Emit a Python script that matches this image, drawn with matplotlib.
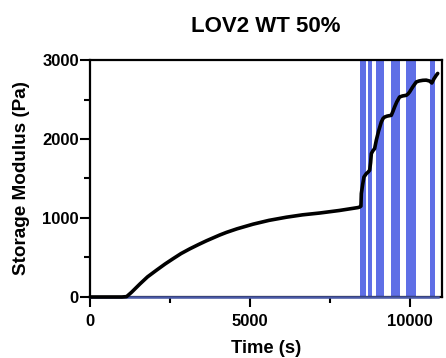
import matplotlib
matplotlib.use("Agg")
import matplotlib.pyplot as plt
from matplotlib.ticker import MultipleLocator

plt.rcParams['font.family'] = ['Liberation Sans', 'DejaVu Sans']

# Storage modulus over time
time_s = [0, 200, 400, 600, 800, 1000, 1146, 1300, 1562, 1800, 2083, 2350, 2604, 2850,
          3125, 3400, 3646, 4062, 4271, 4600, 5103, 5600, 6146, 6650, 7187, 7800,
          8384, 8437, 8478, 8490, 8530, 8572, 8646, 8700, 8750, 8780, 8803, 8850,
          8906, 8959, 9030, 9115, 9170, 9219, 9300, 9428, 9480, 9531, 9600, 9687,
          9780, 9896, 9950, 10000, 10100, 10209, 10300, 10416, 10520, 10625, 10697,
          10760, 10834, 10880]
storage_pa = [0, 0, 0, 0, 0, 0, 5, 60, 165, 255, 340, 418, 486, 550,
              610, 665, 712, 785, 818, 863, 922, 970, 1010, 1040, 1063, 1095,
              1132, 1139, 1150, 1309, 1420, 1519, 1562, 1580, 1604, 1700, 1815, 1850,
              1878, 1984, 2100, 2215, 2260, 2278, 2290, 2300, 2350, 2405, 2470, 2532,
              2545, 2553, 2570, 2595, 2660, 2722, 2735, 2743, 2745, 2734, 2709,
              2760, 2806, 2830]

# Second series near zero (blue line)
loss_time = [0, 10900]
loss_pa = [0, 0]

# Light-exposure bands (start, end) in seconds
band_starts = [8459, 8697, 8937, 9428, 9875, 10625]
band_ends = [8625, 8822, 9187, 9688, 10209, 10781]

x_ticks = [0, 5000, 10000]
y_ticks = [0, 1000, 2000, 3000]

fig = plt.figure(figsize=(4.46, 3.58), dpi=100)
ax = fig.add_axes([0.2018, 0.1704, 0.7882, 0.662])

for s, e in zip(band_starts, band_ends):
    ax.axvspan(s, e, color='#5F6FE6', lw=0, zorder=1)

ax.plot(loss_time, loss_pa, color='#4A5AA8', lw=1.8, zorder=3, clip_on=False)
ax.plot(time_s, storage_pa, color='black', lw=2.6, zorder=4, clip_on=False,
        solid_capstyle='round')

ax.set_xlim(0, 11000)
ax.set_ylim(0, 3000)
ax.set_xticks(x_ticks)
ax.set_yticks(y_ticks)
ax.xaxis.set_minor_locator(MultipleLocator(2500))
ax.yaxis.set_minor_locator(MultipleLocator(500))
ax.tick_params(which='major', direction='out', length=7, width=1.5, labelsize=12)
ax.tick_params(which='minor', direction='out', length=4, width=1.5)
ax.tick_params(axis='y', which='major', pad=1)
ax.tick_params(axis='x', which='major', pad=5)
for lbl in ax.get_xticklabels() + ax.get_yticklabels():
    lbl.set_fontweight('bold')
for sp in ax.spines.values():
    sp.set_linewidth(1.6)

ax.set_xlabel('Time (s)', fontsize=13.2, fontweight='bold', labelpad=8)
ax.set_ylabel('Storage Modulus (Pa)', fontsize=13.6, fontweight='bold', labelpad=9)
ax.set_title('LOV2 WT 50%', fontsize=16, fontweight='bold', pad=20)

fig.savefig('out.png', dpi=100)
